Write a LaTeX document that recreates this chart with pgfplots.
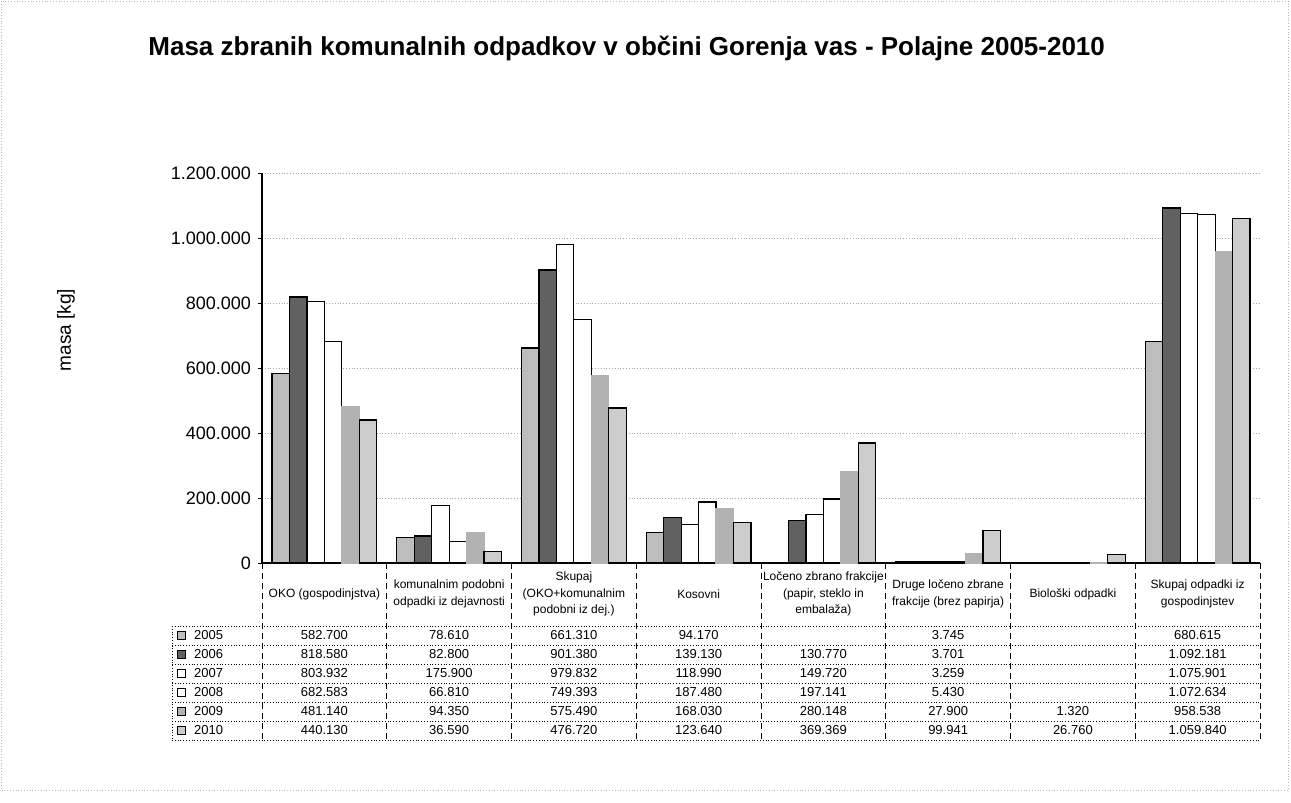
\documentclass[border=0pt]{standalone}
\usepackage{pgfplots}
\pgfplotsset{compat=1.18}
\usepackage{fontspec}
\setmainfont{Liberation Sans}

\definecolor{c05}{gray}{0.74}
\definecolor{c06}{gray}{0.38}
\definecolor{c07}{gray}{1}
\definecolor{c08}{gray}{1}
\definecolor{c09}{gray}{0.70}
\definecolor{c10}{gray}{0.80}

\newcommand\tfont{\fontsize{6.5}{8}\selectfont}
\newcommand\hfont{\fontsize{6}{8.2}\selectfont}
\newcommand\trow[9]{%
  \node[font=\tfont] at ({262+0.5*124.75},#1) {#2};
  \node[font=\tfont] at ({262+1.5*124.75},#1) {#3};
  \node[font=\tfont] at ({262+2.5*124.75},#1) {#4};
  \node[font=\tfont] at ({262+3.5*124.75},#1) {#5};
  \node[font=\tfont] at ({262+4.5*124.75},#1) {#6};
  \node[font=\tfont] at ({262+5.5*124.75},#1) {#7};
  \node[font=\tfont] at ({262+6.5*124.75},#1) {#8};
  \node[font=\tfont] at ({262+7.5*124.75},#1) {#9};
}

\begin{document}
\begin{tikzpicture}
\begin{scope}[x=0.5pt,y=-0.5pt]
\path[use as bounding box] (0,0) rectangle (1291,803);
\draw[gray!55, densely dotted, line width=0.4pt] (1,1) rectangle (1288,790);
\node[anchor=west, inner sep=0pt, font=\bfseries\fontsize{13}{15}\selectfont] at (148,48) {Masa zbranih komunalnih odpadkov v občini Gorenja vas - Polajne 2005-2010};
\node[rotate=90, font=\fontsize{9.5}{11}\selectfont] at (66,330) {masa [kg]};
\end{scope}

\begin{axis}[
  at={(131pt,-281.5pt)}, anchor=south west,
  scale only axis, width=499pt, height=195pt,
  xmin=-0.5, xmax=7.5, ymin=0, ymax=1200000,
  xtick=\empty,
  ytick={0,200000,400000,600000,800000,1000000,1200000},
  scaled y ticks=false,
  yticklabel style={/pgf/number format/.cd, fixed, 1000 sep={.}, assume math mode=true},
  ticklabel style={font=\fontsize{9}{11}\selectfont},
  axis x line=bottom, axis y line=left, axis line style={-, black, line width=0.6pt},
  tick align=outside, major tick length=2pt, tick style={black},
  ymajorgrids, grid style={densely dotted, gray!70, line width=0.5pt},
  ybar=0pt, bar width=0.14,
  every axis plot/.append style={line width=0.6pt},
]
\addplot[fill=c05, draw=black] coordinates {(0,582700) (1,78610) (2,661310) (3,94170) (5,3745) (7,680615)};
\addplot[fill=c06, draw=black] coordinates {(0,818580) (1,82800) (2,901380) (3,139130) (4,130770) (5,3701) (7,1092181)};
\addplot[fill=c07, draw=black] coordinates {(0,803932) (1,175900) (2,979832) (3,118990) (4,149720) (5,3259) (7,1075901)};
\addplot[fill=c08, draw=black] coordinates {(0,682583) (1,66810) (2,749393) (3,187480) (4,197141) (5,5430) (7,1072634)};
\addplot[fill=c09, draw=gray!60] coordinates {(0,481140) (1,94350) (2,575490) (3,168030) (4,280148) (5,27900) (6,1320) (7,958538)};
\addplot[fill=c10, draw=black] coordinates {(0,440130) (1,36590) (2,476720) (3,123640) (4,369369) (5,99941) (6,26760) (7,1059840)};
\end{axis}

\begin{scope}[x=0.5pt,y=-0.5pt]
% table grid
\foreach \k in {0,...,8} {
  \draw[densely dashed, line width=0.4pt] ({262+\k*124.75},563) -- ({262+\k*124.75},740);
}
\draw[densely dotted, line width=0.4pt] (172,626) -- (172,740);
\foreach \yy in {626,645,664,683,702,721,740} {
  \draw[densely dotted, line width=0.4pt] (172,\yy) -- (1260,\yy);
}
% headers
\node[font=\hfont, align=center] at ({262+0.5*124.75},594) {OKO (gospodinjstva)};
\node[font=\hfont, align=center] at ({262+1.5*124.75},594) {komunalnim podobni\\odpadki iz dejavnosti};
\node[font=\hfont, align=center] at ({262+2.5*124.75},594) {Skupaj\\(OKO+komunalnim\\podobni iz dej.)};
\node[font=\hfont, align=center] at ({262+3.5*124.75},594) {Kosovni};
\node[font=\hfont, align=center] at ({262+4.5*124.75},594) {Ločeno zbrano frakcije\\(papir, steklo in\\embalaža)};
\node[font=\hfont, align=center] at ({262+5.5*124.75},594) {Druge ločeno zbrane\\frakcije (brez papirja)};
\node[font=\hfont, align=center] at ({262+6.5*124.75},594) {Biološki odpadki};
\node[font=\hfont, align=center] at ({262+7.5*124.75},594) {Skupaj odpadki iz\\gospodinjstev};
% legend column
\foreach \yy/\c/\yr in {635.5/c05/2005, 654.5/c06/2006, 673.5/c07/2007, 692.5/c08/2008, 711.5/c09/2009, 730.5/c10/2010} {
  \draw[fill=\c, line width=0.4pt] (177,\yy-4) rectangle (185,\yy+4);
  \node[font=\tfont, anchor=west] at (187,\yy) {\yr};
}
% values
\trow{635.5}{582.700}{78.610}{661.310}{94.170}{}{3.745}{}{680.615}
\trow{654.5}{818.580}{82.800}{901.380}{139.130}{130.770}{3.701}{}{1.092.181}
\trow{673.5}{803.932}{175.900}{979.832}{118.990}{149.720}{3.259}{}{1.075.901}
\trow{692.5}{682.583}{66.810}{749.393}{187.480}{197.141}{5.430}{}{1.072.634}
\trow{711.5}{481.140}{94.350}{575.490}{168.030}{280.148}{27.900}{1.320}{958.538}
\trow{730.5}{440.130}{36.590}{476.720}{123.640}{369.369}{99.941}{26.760}{1.059.840}
\end{scope}
\end{tikzpicture}
\end{document}
